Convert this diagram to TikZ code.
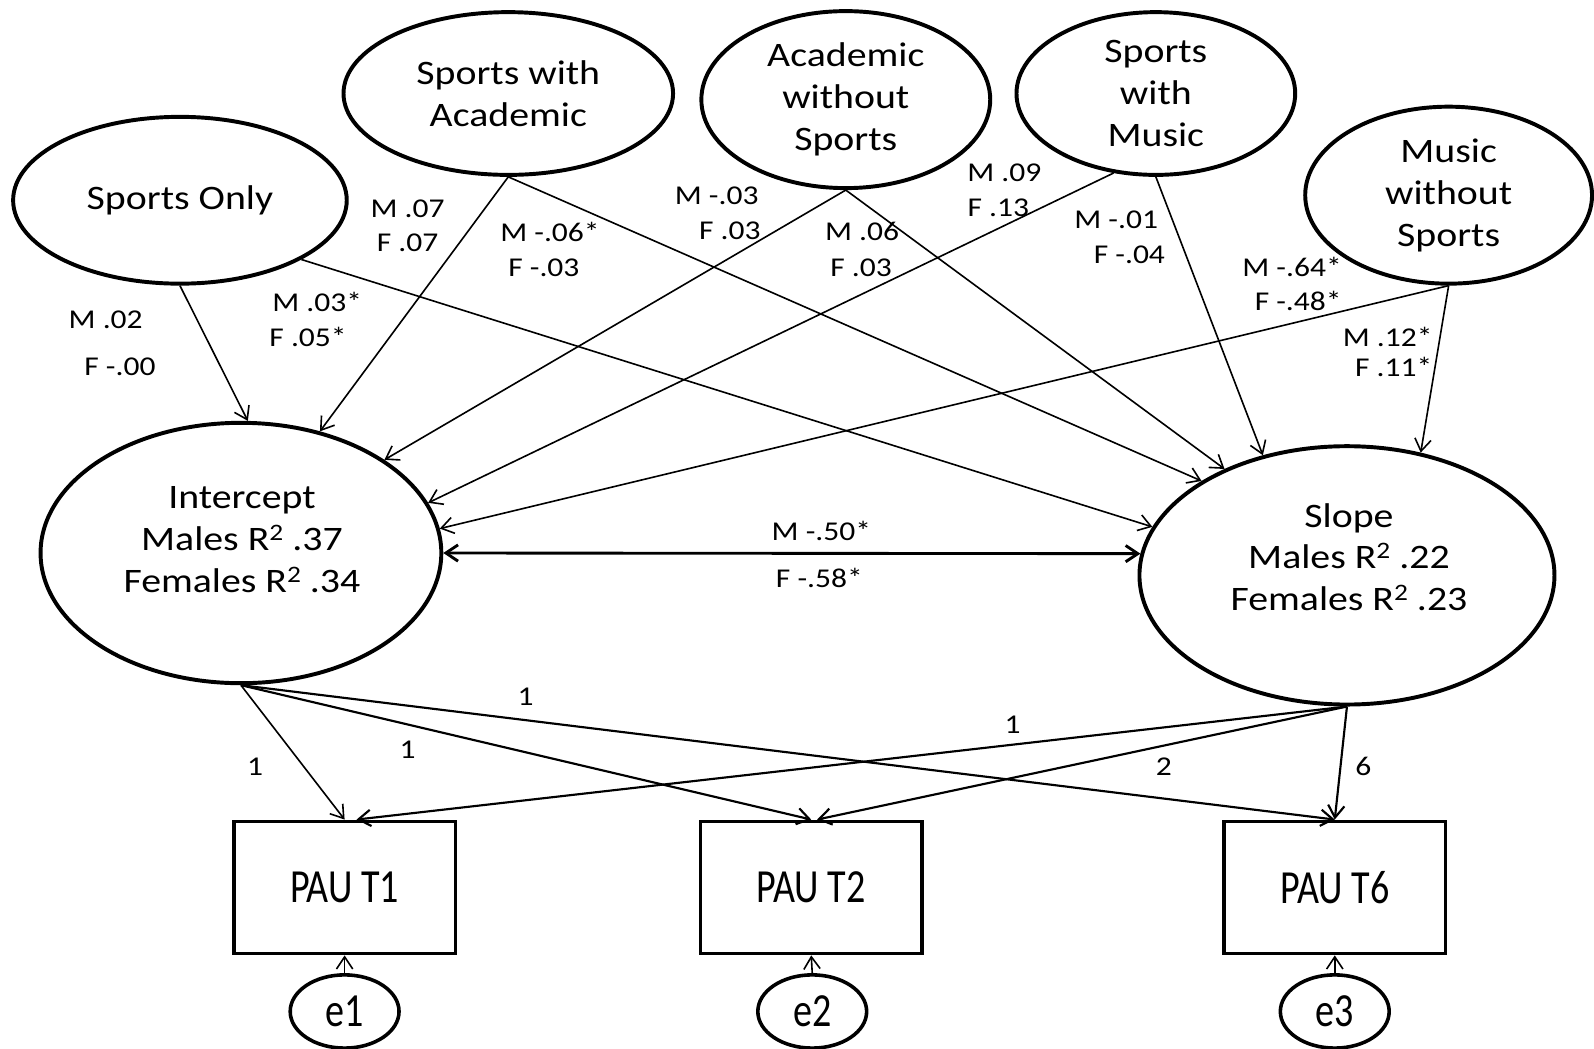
\documentclass[tikz,border=0pt]{standalone}
\usepackage{fontspec}
\setmainfont{Carlito}
\newfontfamily\ellfont{Carlito}[FakeStretch=1.16]
\newfontfamily\boxfont{Carlito}[FakeStretch=0.8]
\usetikzlibrary{shapes.geometric,arrows.meta}
\newcommand\supii{\raisebox{2.8pt}{\fontsize{6.6}{7}\selectfont 2}}
\begin{document}
\begin{tikzpicture}[x=0.01cm,y=-0.01cm,
  lat/.style={ellipse, draw, line width=1.1pt, inner sep=-10pt, align=center,
              font=\ellfont\fontsize{9.6}{11.7}\selectfont},
  lattext/.style={align=center, inner sep=0pt, font=\ellfont\fontsize{9.6}{11.7}\selectfont},
  obs/.style={rectangle, draw, line width=1pt, minimum width=2.18cm, minimum height=1.30cm,
              font=\boxfont\fontsize{13.3}{15}\selectfont},
  err/.style={ellipse, draw, line width=1pt, minimum width=1.07cm, minimum height=0.72cm,
              inner sep=-5pt, font=\boxfont\fontsize{13.3}{15}\selectfont},
  conn/.style={-{Straight Barb[length=1.2mm,width=1.6mm]}, line width=0.45pt},
  connb/.style={-{Straight Barb[length=1.2mm,width=1.6mm]}, line width=0.6pt},
  lab/.style={inner sep=0pt, font=\ellfont\fontsize{7.6}{9}\selectfont}
]
\useasboundingbox (0,0) rectangle (1568,1031);

% latent predictors
\node[lat, minimum width=3.28cm, minimum height=1.64cm] (so)  at (177,197)  {Sports Only};
\node[lat, minimum width=3.24cm, minimum height=1.60cm] (swa) at (500,92)   {Sports with\\Academic};
\node[lat, minimum width=2.84cm, minimum height=1.74cm] (aws) at (832,98)   {Academic\\without\\Sports};
\node[lat, minimum width=2.74cm, minimum height=1.60cm] (swm) at (1137,92)  {Sports\\with\\Music};
\node[lat, minimum width=2.82cm, minimum height=1.74cm] (mws) at (1425,192) {Music\\without\\Sports};

% growth factors
\node[lat, minimum width=3.94cm, minimum height=2.56cm] (int) at (237,544) {};
\node[lattext] (intT) at (238,531) {Intercept\\Males R\supii{} .37\\Females R\supii{} .34};
\node[lat, minimum width=4.08cm, minimum height=2.54cm] (sl) at (1325,566) {};
\node[lattext] (slT) at (1327,548) {Slope\\Males R\supii{} .22\\Females R\supii{} .23};

% observed
\node[obs] (b1) at (339,873) {PAU T1};
\node[obs] (b2) at (798,873) {PAU T2};
\node[obs] (b3) at (1313,873) {PAU T6};

% errors
\node[err] (e1) at (339,995) {e1};
\node[err] (e2) at (799,995) {e2};
\node[err] (e3) at (1313,995) {e3};

% paths from predictors
\draw[conn] (so.south) -- (int.87);
\draw[conn] (so.-26) -- (sl.166);
\draw[conn] (swa.south) -- (int.57);
\draw[conn] (swa.south) -- (sl.147);
\draw[conn] (aws.south) -- (int.33);
\draw[conn] (aws.south) -- (sl.139);
\draw[conn] (swm.-118) -- (int.15);
\draw[conn] (swm.south) -- (sl.125);
\draw[conn] (mws.south) -- (int.7);
\draw[conn] (mws.south) -- (sl.59);

% covariance
\draw[{Straight Barb[length=1.2mm,width=1.6mm]}-{Straight Barb[length=1.2mm,width=1.6mm]}, line width=0.8pt]
  (int.east) -- (sl.174);

% loadings
\draw[conn] (int.south) -- (b1.north);
\draw[connb] (int.south) -- (b2.north);
\draw[connb] (int.south) -- (b3.north);
\draw[connb] (sl.south) -- (b1.80);
\draw[connb] (sl.south) -- (b2.85);
\draw[connb] (sl.south) -- (b3.north);

% errors
\draw[conn] (e1.north) -- (b1.south);
\draw[conn] (e2.north) -- (b2.south);
\draw[conn] (e3.north) -- (b3.south);

% labels
\node[lab] (l1a) at (104,315) {M .02};
\node[lab] (l1b) at (118,361) {F -.00};
\node[lab] (l2a) at (312,297) {M .03*};
\node[lab] (l2b) at (303,331) {F .05*};
\node[lab] (l3a) at (401,205) {M .07};
\node[lab] (l3b) at (401,239) {F .07};
\node[lab] (l4a) at (541,228) {M -.06*};
\node[lab] (l4b) at (535,263) {F -.03};
\node[lab] (l5a) at (705,193) {M -.03};
\node[lab] (l5b) at (718,227) {F .03};
\node[lab] (l6a) at (848,228) {M .06};
\node[lab] (l6b) at (847,263) {F .03};
\node[lab] (l7a) at (988,170) {M .09};
\node[lab] (l7b) at (982,204) {F .13};
\node[lab] (l8a) at (1098,216) {M -.01};
\node[lab] (l8b) at (1111,251) {F -.04};
\node[lab] (l9a) at (1271,263) {M -.64*};
\node[lab] (l9b) at (1277,296) {F -.48*};
\node[lab] (l10a) at (1365,331) {M .12*};
\node[lab] (l10b) at (1371,361) {F .11*};
\node[lab] (lca) at (808,522) {M -.50*};
\node[lab] (lcb) at (806,569) {F -.58*};

\node[lab] (n1) at (517,685) {1};
\node[lab] (n2) at (401,738) {1};
\node[lab] (n3) at (251,754) {1};
\node[lab] (n4) at (996,713) {1};
\node[lab] (n5) at (1145,754) {2};
\node[lab] (n6) at (1341,754) {6};
\end{tikzpicture}
\end{document}
